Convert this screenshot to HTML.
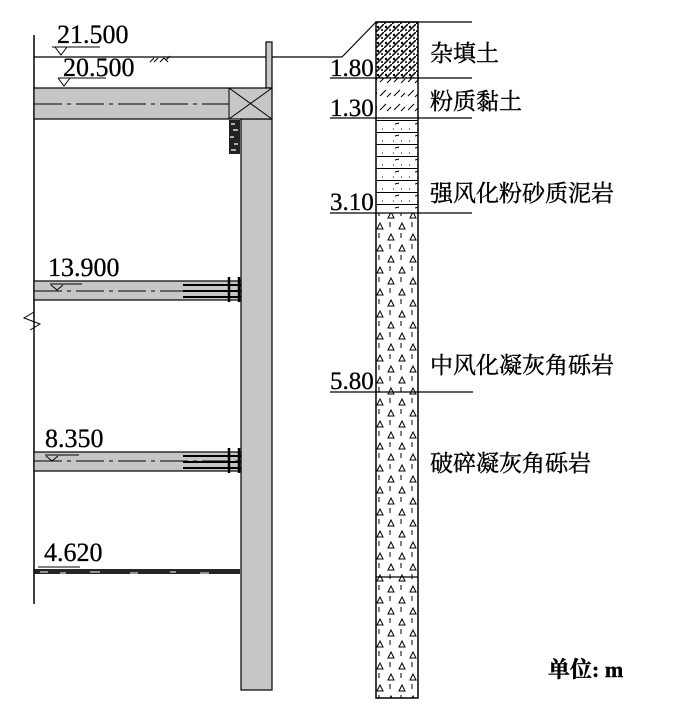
<!DOCTYPE html>
<html><head><meta charset="utf-8"><style>
html,body{margin:0;padding:0;background:#fff;width:688px;height:719px;overflow:hidden}
svg{display:block}
.n{font-family:"Liberation Serif",serif;font-size:26px;fill:#000;stroke:#000;stroke-width:0.3}
.m{font-family:"Liberation Serif",serif;font-size:25px;fill:#000;stroke:#000;stroke-width:0.3}
.c{font-family:"Liberation Serif","Noto Serif CJK SC",serif;font-size:23px;fill:#000;stroke:#000;stroke-width:0.4}
</style></head><body>
<svg width="688" height="719" viewBox="0 0 688 719" xmlns="http://www.w3.org/2000/svg">
<defs>
<pattern id="fill1" width="8" height="8" patternUnits="userSpaceOnUse">
<rect width="8" height="8" fill="#fff"/><path d="M0 8L8 0" stroke="#000" stroke-width="1.5"/><circle cx="2" cy="3" r="1.2"/><circle cx="6" cy="6" r="1"/>
</pattern>
<pattern id="silt" width="14" height="14" patternUnits="userSpaceOnUse">
<path d="M2 12L8 6M9 13L13 9" stroke="#000" stroke-width="1"/>
</pattern>
<pattern id="sand" width="43" height="12" patternUnits="userSpaceOnUse">
<path d="M0 0.5H43" stroke="#000" stroke-width="1"/><path d="M8 4l4-1M28 4l4-1" stroke="#000"/><path d="M6 9h1M14 9h1M22 9h1M30 9h1M38 9h1" stroke="#000"/>
</pattern>
<pattern id="tuff" width="22" height="22" patternUnits="userSpaceOnUse">
<path d="M3 9l3-6 3 6z M14 20l3-6 3 6z" fill="none" stroke="#000" stroke-width="1"/>
<path d="M16 2v5M5 13v5" stroke="#000" stroke-width="1"/>
</pattern>
</defs>

<line x1="34" y1="35" x2="34" y2="604" stroke="#000" stroke-width="1.5"/>
<path d="M34 312 L24 318 L40 324 L30 330" fill="none" stroke="#000" stroke-width="1"/>

<line x1="34" y1="57" x2="342" y2="57" stroke="#000" stroke-width="1.2"/>
<line x1="342" y1="57" x2="376" y2="22" stroke="#000" stroke-width="1.2"/>
<path d="M150 62l4-4M154 62l4-4M160 62l4-4M166 60l4-4M168 62l-4-4" stroke="#000" stroke-width="1"/>

<rect x="266" y="42" width="6" height="46" fill="#c8c8c8" stroke="#000" stroke-width="1.2"/>
<rect x="241" y="119" width="31" height="571" fill="#c6c6c6" stroke="#000" stroke-width="1.2"/>
<rect x="34" y="88" width="238" height="31" fill="#c6c6c6" stroke="#000" stroke-width="1.2"/>
<line x1="229" y1="88" x2="229" y2="119" stroke="#000"/>
<path d="M229 88L272 119M272 88L229 119" stroke="#000" stroke-width="1"/>
<line x1="34" y1="104" x2="229" y2="104" stroke="#000" stroke-width="1" stroke-dasharray="28,5,4,5"/>
<rect x="229" y="120" width="11" height="34" fill="#222"/>
<path d="M231 124h4M233 130h5M230 137h4M234 144h4M231 150h5" stroke="#fff" stroke-width="1.3"/>

<rect x="34" y="281" width="207" height="19" fill="#c6c6c6" stroke="#000" stroke-width="1.2"/>
<line x1="34" y1="291" x2="241" y2="291" stroke="#000" stroke-dasharray="28,5,4,5"/>
<path d="M183 285h58M183 297h58M183 291h58" stroke="#000" stroke-width="2"/>
<path d="M229 277v25M239 277v25" stroke="#000" stroke-width="2.5"/>
<rect x="34" y="452" width="207" height="19" fill="#c6c6c6" stroke="#000" stroke-width="1.2"/>
<line x1="34" y1="461" x2="241" y2="461" stroke="#000" stroke-dasharray="28,5,4,5"/>
<path d="M183 456h58M183 468h58M183 462h58" stroke="#000" stroke-width="2"/>
<path d="M229 448v25M239 448v25" stroke="#000" stroke-width="2.5"/>

<rect x="34" y="569" width="206" height="5" fill="#000" opacity="0.85"/>
<path d="M40 572h8M60 573h6M90 572h10M130 573h8M170 572h6M200 573h9" stroke="#fff" stroke-width="1"/>

<path d="M52 47h48M55 47l6 8 6-8" fill="none" stroke="#000"/>
<path d="M58 78h48M58 78l6 8 6-8" fill="none" stroke="#000"/>
<path d="M50 284h32M51 285l6 5 6-5" fill="none" stroke="#000"/>
<path d="M45 455h34M46 456l6 5 6-5" fill="none" stroke="#000"/>
<path d="M38 567h42" stroke="#000"/>

<text class="n" x="57" y="43">21.500</text>
<text class="n" x="63" y="76">20.500</text>
<text class="n" x="48" y="276">13.900</text>
<text class="n" x="45" y="447">8.350</text>
<text class="n" x="44" y="561">4.620</text>

<rect x="376" y="22" width="42" height="56" fill="url(#fill1)"/>
<rect x="376" y="78" width="42" height="40" fill="url(#silt)"/>
<rect x="376" y="118" width="42" height="95" fill="url(#sand)"/>
<rect x="376" y="213" width="42" height="485" fill="url(#tuff)"/>
<rect x="376" y="22" width="42" height="676" fill="none" stroke="#000" stroke-width="1.5"/>
<line x1="376" y1="577" x2="418" y2="577" stroke="#000" stroke-width="1.2"/>
<g stroke="#000" stroke-width="1.2">
<line x1="376" y1="22" x2="472" y2="22"/>
<line x1="330" y1="78" x2="472" y2="78"/>
<line x1="330" y1="118" x2="472" y2="118"/>
<line x1="330" y1="213" x2="472" y2="213"/>
<line x1="330" y1="392" x2="473" y2="392"/>
</g>
<text class="m" x="330" y="76">1.80</text>
<text class="m" x="330" y="116">1.30</text>
<text class="m" x="330" y="210">3.10</text>
<text class="m" x="330" y="389">5.80</text>

<text class="c" x="430" y="61">杂填土</text>
<text class="c" x="430" y="109">粉质黏土</text>
<text class="c" x="430" y="201">强风化粉砂质泥岩</text>
<text class="c" x="430" y="373">中风化凝灰角砾岩</text>
<text class="c" x="430" y="471">破碎凝灰角砾岩</text>
<text class="c" x="548" y="677" style="font-weight:bold;font-size:22px">单位: m</text>
</svg>
</body></html>
